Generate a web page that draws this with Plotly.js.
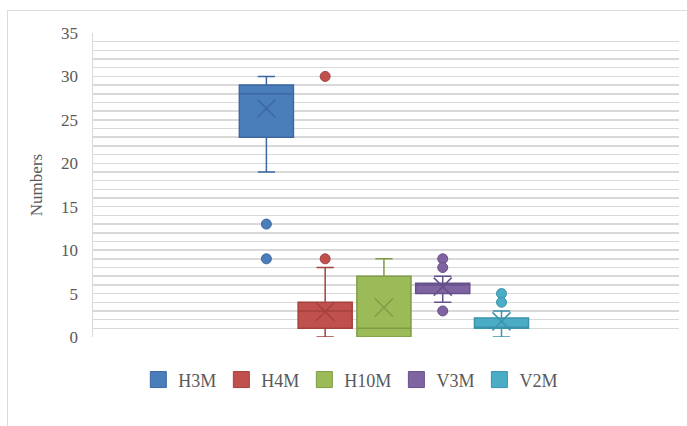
<!DOCTYPE html>
<html><head><meta charset="utf-8">
<script src="https://cdn.plot.ly/plotly-3.0.1.min.js"></script>
<style>
html,body{margin:0;padding:0;overflow:hidden;background:#fff}
#chart{width:687px;height:426px}
#frame{position:absolute;left:7px;top:10px;width:700px;height:430px;border:1px solid #dcdcdc;pointer-events:none}
</style></head>
<body><div id="chart"></div><div id="frame"></div>
<script>
const series = ['H3M','H4M','H10M','V3M','V2M'];
const seriesIndex = [1,2,3,4,5];
const lowerFence = [19,0,0,4,0];
const q1 = [23,1,0,5,1];
const median = [28,3,1,6,1];
const q3 = [29,4,7,6.2,2.2];
const upperFence = [30,8,9,7,3];
const means = [26.3,2.9,3.4,5.8,1.8];
const outliers = [[13,9],[30,9],[],[9,8,3],[5,4]];
const yTicks = [0,5,10,15,20,25,30,35];

const fills = ['#4a7ebb','#c0504d','#9bbb59','#8064a2','#4bacc6'];
const lines = ['#3c67a1','#a3413e','#7f9c47','#66508a','#3a93ab'];
const font = 'Liberation Serif, Times New Roman, serif';

const traces = [];
series.forEach((name,i)=>{
  traces.push({type:'box', name:name, x:[seriesIndex[i]], q1:[q1[i]], median:[median[i]], q3:[q3[i]],
    lowerfence:[lowerFence[i]], upperfence:[upperFence[i]], boxpoints:false,
    fillcolor:fills[i], line:{color:lines[i], width:1.5}, whiskerwidth:0.32, width:0.92,
    showlegend:false, hoverinfo:'skip'});
});
series.forEach((name,i)=>{
  traces.push({type:'scatter', mode:'markers', x:outliers[i].map(()=>seriesIndex[i]), y:outliers[i],
    marker:{symbol:'circle', size:10, color:fills[i], line:{color:lines[i], width:1}},
    showlegend:false, hoverinfo:'skip'});
  traces.push({type:'scatter', mode:'markers', x:[seriesIndex[i]], y:[means[i]],
    marker:{symbol:'x-thin-open', size:18, color:lines[i], line:{color:lines[i], width:1.5}},
    showlegend:false, hoverinfo:'skip'});
});
series.forEach((name,i)=>{
  traces.push({type:'scatter', mode:'markers', name:name, x:[null], y:[null],
    marker:{symbol:'square', size:16, color:fills[i], line:{color:lines[i], width:1}}});
});

const layout = {
  width:687, height:426,
  margin:{l:93, r:8, t:33, b:89},
  paper_bgcolor:'#fff', plot_bgcolor:'#fff',
  showlegend:true,
  legend:{orientation:'h', x:0.44, xanchor:'center', y:-0.141, yanchor:'middle',
    font:{family:font, size:18, color:'#595959'}, itemsizing:'trace'},
  xaxis:{range:[-1.95,8.02], showgrid:false, zeroline:false, showticklabels:false, ticks:'', showline:false, fixedrange:true},
  yaxis:{range:[0,35], tickvals:yTicks, ticktext:yTicks.map(String), showgrid:true, gridcolor:'#d9d9d9', gridwidth:1.5,
    minor:{dtick:1, tick0:0, showgrid:true, gridcolor:'#d9d9d9', gridwidth:1.5},
    showline:true, linecolor:'#d9d9d9', linewidth:1.5, zeroline:false, ticks:'',
    ticklabelstandoff:10,
    tickfont:{family:font, size:17, color:'#595959'},
    title:{text:'Numbers', font:{family:font, size:17, color:'#595959'}, standoff:14}}
};
Plotly.newPlot('chart', traces, layout, {displayModeBar:false, staticPlot:true});
</script>
</body></html>
